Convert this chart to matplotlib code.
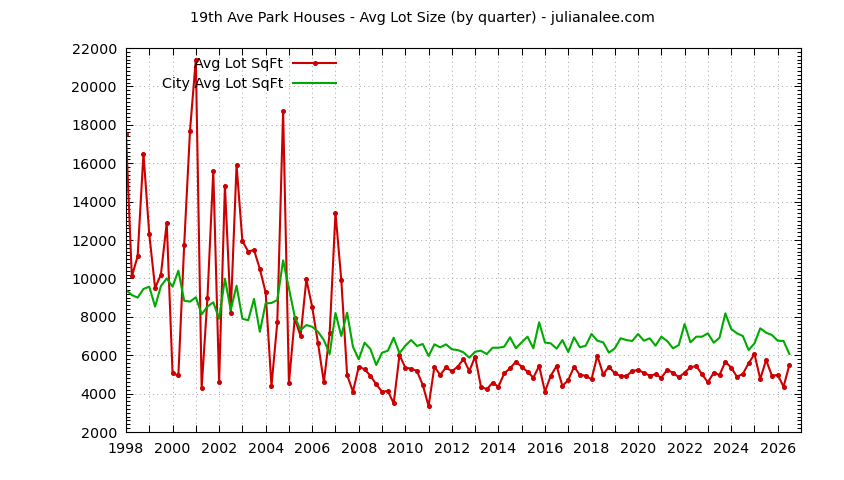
import numpy as np
import matplotlib
matplotlib.use('Agg')
import matplotlib.pyplot as plt
from matplotlib.ticker import MultipleLocator, FuncFormatter

#data, one value per quarter starting 1998 Q1 =================================
start_year = 1998
avg_lot = [17500, 10100, 11150, 16500,   # 1998
           12300, 9500, 10200, 12900,    # 1999
           5050, 4950, 11750, 17700,     # 2000
           21400, 4280, 9000, 15600,     # 2001
           4590, 14830, 8200, 15900,     # 2002
           11950, 11400, 11480, 10490,   # 2003
           9270, 4400, 7710, 18730,      # 2004
           4540, 7920, 7000, 9950,       # 2005
           8500, 6620, 4590, 7140,       # 2006
           13420, 9920, 4970, 4100,      # 2007
           5400, 5265, 4934, 4484,       # 2008
           4100, 4135, 3494, 6010,       # 2009
           5350, 5300, 5177, 4448,       # 2010
           3354, 5400, 4970, 5370,       # 2011
           5160, 5400, 5800, 5177,       # 2012
           5923, 4360, 4224, 4570,       # 2013
           4360, 5055, 5316, 5663,       # 2014
           5400, 5140, 4830, 5437,       # 2015
           4100, 4934, 5437, 4396,       # 2016
           4708, 5400, 4970, 4934,       # 2017
           4744, 5975, 5003, 5400,       # 2018
           5055, 4917, 4917, 5177,       # 2019
           5230, 5090, 4934, 5003,       # 2020
           4830, 5230, 5090, 4850,       # 2021
           5090, 5370, 5437, 5003,       # 2022
           4590, 5090, 4970, 5663,       # 2023
           5350, 4880, 5020, 5578,       # 2024
           6060, 4760, 5750, 4934,       # 2025
           4970, 4360, 5490]             # 2026

city_avg_lot = [9400, 9135, 9000, 9450,  # 1998
                9570, 8530, 9600, 10000,  # 1999
                9570, 10400, 8840, 8790,  # 2000
                9015, 8130, 8530, 8755,   # 2001
                7900, 9985, 8350, 9620,   # 2002
                7900, 7820, 8930, 7220,   # 2003
                8700, 8720, 8875, 10940,  # 2004
                9480, 8005, 7310, 7570,   # 2005
                7480, 7220, 6790, 6060,   # 2006
                8200, 7000, 8214, 6443,   # 2007
                5786, 6651, 6323, 5490,   # 2008
                6130, 6234, 6911, 6100,   # 2009
                6495, 6790, 6480, 6583,   # 2010
                5958, 6565, 6411, 6565,   # 2011
                6307, 6270, 6150, 5870,   # 2012
                6182, 6234, 6060, 6390,   # 2013
                6390, 6443, 6932, 6359,   # 2014
                6672, 6964, 6359, 7713,   # 2015
                6660, 6615, 6340, 6790,   # 2016
                6167, 6932, 6411, 6495,   # 2017
                7104, 6755, 6672, 6130,   # 2018
                6359, 6880, 6790, 6740,   # 2019
                7104, 6755, 6880, 6495,   # 2020
                6964, 6740, 6359, 6530,   # 2021
                7625, 6672, 6964, 6964,   # 2022
                7140, 6651, 6911, 8180,   # 2023
                7365, 7140, 7000, 6270,   # 2024
                6615, 7400, 7172, 7052,   # 2025
                6755, 6740, 6060]         # 2026

quarters = start_year + np.arange(len(avg_lot)) / 4.0

title = '19th Ave Park Houses - Avg Lot Size (by quarter) - julianalee.com'

#plot =========================================================================
plt.rcParams['font.family'] = 'DejaVu Sans'
plt.rcParams['font.size'] = 10.3

fig = plt.figure(figsize=(8.44, 4.8), dpi=100)
ax = fig.add_axes([126/844, 1 - 432/480, 675/844, 384/480])

ax.plot(quarters, avg_lot, color='#cc0000', lw=1.5, marker='o', ms=2.6,
        label='Avg Lot SqFt')
ax.plot(quarters, city_avg_lot, color='#00aa00', lw=1.5,
        label='City Avg Lot SqFt')

ax.set_xlim(1998, 2027)
ax.set_ylim(2000, 22000)

ax.xaxis.set_major_locator(MultipleLocator(1))
ax.xaxis.set_major_formatter(FuncFormatter(
    lambda v, p: '%d' % round(v) if round(v) % 2 == 0 else ''))
ax.yaxis.set_major_locator(MultipleLocator(2000))
ax.yaxis.set_minor_locator(MultipleLocator(200))

ax.tick_params(which='both', direction='in', top=True, right=True, width=0.75)
ax.tick_params(which='major', length=5)
ax.tick_params(which='minor', length=3)
ax.tick_params(axis='x', pad=7)
ax.tick_params(axis='y', pad=6.5)
for s in ax.spines.values():
    s.set_linewidth(0.8)

ax.grid(True, which='major', color='#a8a8a8', lw=0.72, linestyle=(0, (1, 3.4)))

fig.text(0.5, 1 - 18/480, title, ha='center', va='center')

ax.legend(loc='upper right', bbox_to_anchor=(336/844, 1 - 57/480),
          bbox_transform=fig.transFigure, markerfirst=False, frameon=False,
          borderpad=0, borderaxespad=0, handlelength=3.0, handletextpad=0.7,
          labelspacing=0.45)

fig.savefig('out.png', dpi=100)
